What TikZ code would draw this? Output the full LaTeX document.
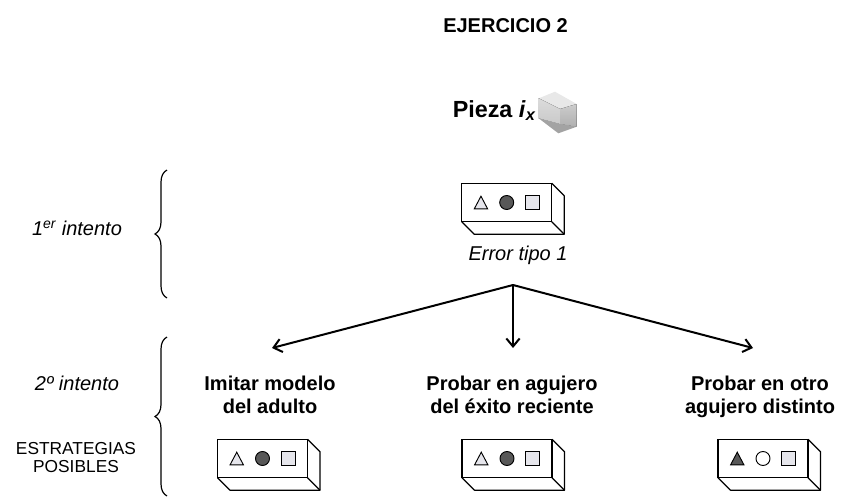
\documentclass[tikz,border=0pt]{standalone}
\usepackage{fontspec}
\setmainfont{Liberation Sans}
\usetikzlibrary{positioning,calc,arrows.meta,decorations.pathreplacing}

\definecolor{holelight}{HTML}{E6E6EC}
\definecolor{holedark}{HTML}{585858}

% board with three holes, front face centred at #2, depth to the lower right
\newcommand{\board}[5]{%
  \node[boardface] (#1) at (#2) {};
  \draw[boardline] (#1.north east) -- ++(12.5,12.5) -- ++(0,38.5) -- ++(-90,0) -- (#1.south west);
  \draw[boardline] (#1.south east) -- ++(12.5,12.5);
  \draw[hole, fill=#3] ($(#1.center)+(-32.4,6.3)$) -- ++(13.3,0) -- ++(-6.65,-12.6) -- cycle;
  \draw[hole, fill=#4] (#1.center) circle (7);
  \draw[hole, fill=#5] ($(#1.center)+(18.8,-7)$) rectangle ++(14,14);
}

\begin{document}
\begin{tikzpicture}[x=0.75pt, y=-0.75pt,
    title/.style={font=\bfseries\fontsize{15}{17}\selectfont, align=center, inner sep=0},
    side/.style={font=\itshape\fontsize{15}{17}\selectfont, inner sep=0},
    caps/.style={font=\fontsize{13}{12.8}\selectfont, align=center, inner sep=0},
    boardface/.style={draw, line width=0.9pt, minimum width=67.5pt, minimum height=28.9pt, inner sep=0, outer sep=0},
    boardline/.style={line width=0.9pt, line join=round},
    hole/.style={line width=0.7pt},
    arr/.style={-{Straight Barb[length=6pt,width=10pt]}, line width=1.5pt},
    bracket/.style={decorate, decoration={brace, amplitude=9pt}, line width=0.9pt}
]
\useasboundingbox (0,0) rectangle (841,497);

\node[title, anchor=base] (ejercicio) at (505.5,32) {EJERCICIO 2};

% the piece
\node[font=\bfseries\fontsize{17.5}{19}\selectfont, inner sep=0, anchor=base west] (pieza) at (452.5,117)
  {Pieza \textit{i}\textsubscript{\textit{x}}};
\fill[gray!18] (538.7,98.3) -- (555,91.7) -- (576.7,104) -- (560,109) -- cycle;
\fill[top color=gray!28, bottom color=gray!42] (538.7,98.3) -- (560,109) -- (560,124) -- (538.7,118.3) -- cycle;
\fill[top color=gray!40, bottom color=gray!62] (560,109) -- (576.7,104) -- (576.7,126.7) -- (560,124) -- cycle;
\fill[gray!72] (538.7,118.3) -- (560,124) -- (576.7,126.7) -- (558.3,133.3) -- cycle;

% first try
\board{primero}{506.7,202.5}{holelight}{holedark}{holelight}
\node[side, anchor=base] (error) at (518,260) {Error tipo 1};
\coordinate (split) at (513,285);

\node[side, anchor=base] (intento1) at (77,235) {1\textsuperscript{er} intento};
\draw[bracket] (167,298) -- (167,170);

% second try, three strategies
\node[side, anchor=base] (intento2) at (77,390) {2º intento};
\node[caps, anchor=base] (estrategias) at (76,472) {ESTRATEGIAS\\POSIBLES};
\draw[bracket] (167,496) -- (167,337);

\node[title, anchor=base] (imitar) at (270,413) {Imitar modelo\\del adulto};
\node[title, anchor=base] (reciente) at (512,413) {Probar en agujero\\del éxito reciente};
\node[title, anchor=base] (otro) at (760,413) {Probar en otro\\agujero distinto};

\coordinate (toimitar) at (272,348);
\coordinate (toreciente) at (513,348);
\coordinate (tootro) at (753,348);
\draw[arr] (split) -- (toimitar);
\draw[arr] (split) -- (toreciente);
\draw[arr] (split) -- (tootro);

\board{imitarbox}{262.5,458.5}{holelight}{holedark}{holelight}
\board{recientebox}{507,458.5}{holelight}{holedark}{holelight}
\board{otrobox}{763,458.5}{holedark}{white}{holelight}
\end{tikzpicture}
\end{document}
